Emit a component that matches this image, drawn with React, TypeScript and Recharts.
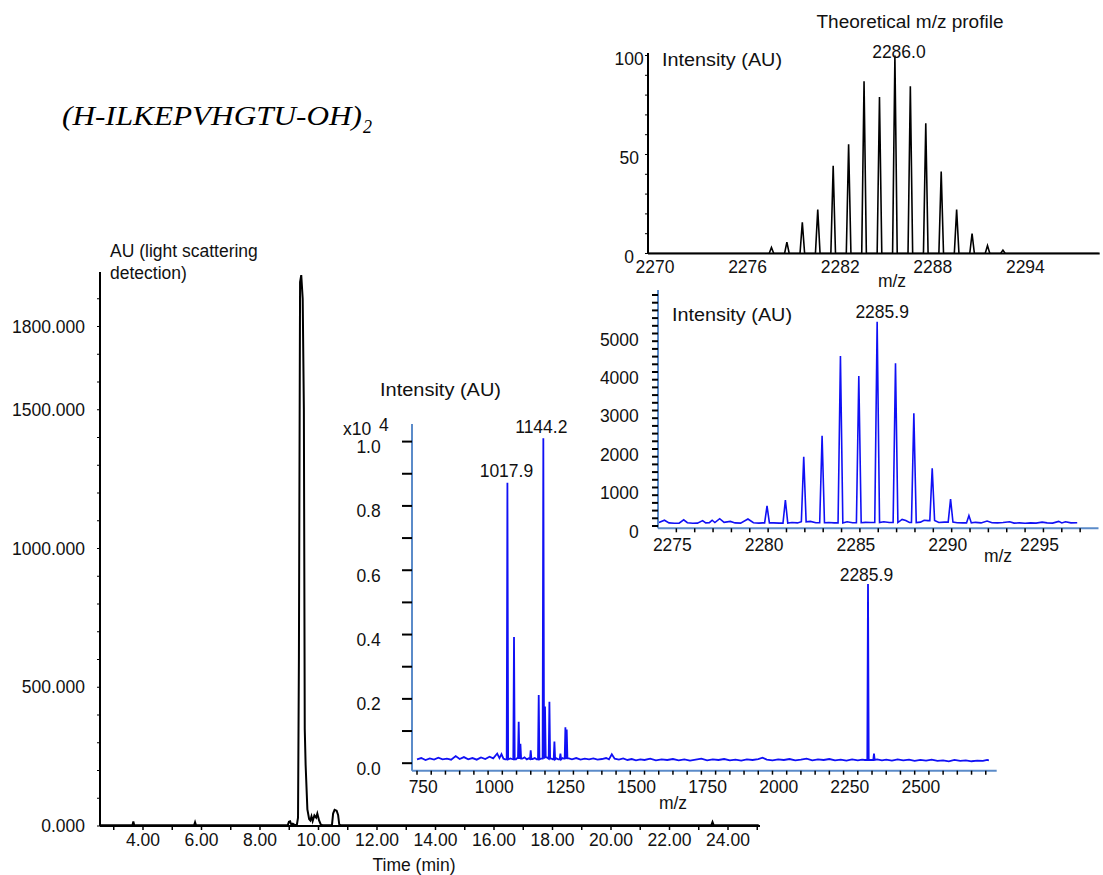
import React from 'react';
import { LineChart, Line, XAxis, YAxis, ReferenceDot } from 'recharts';

// ---------------- Panel 1: chromatogram (light scattering) ----------------
const chromTime = [2.55, 3.64, 3.67, 3.70, 5.75, 5.78, 5.81, 8.95, 8.99, 9.03, 9.07, 9.12, 9.18, 9.26, 9.30, 9.33, 9.37, 9.41, 9.46, 9.50, 9.53, 9.56, 9.62, 9.68, 9.72, 9.76, 9.80, 9.86, 9.92, 9.96, 10.02, 10.08, 10.14, 10.46, 10.50, 10.55, 10.62, 10.67, 10.71, 10.76, 23.43, 23.47, 23.51, 25.05];
const chromAU = [3, 3, 16, 3, 3, 13, 3, 3, 15, 17, 5, 8, 4, 4, 30, 600, 1960, 1985, 1900, 1500, 350, 220, 60, 25, 20, 35, 18, 38, 30, 45, 20, 5, 3, 3, 45, 58, 55, 40, 5, 3, 3, 14, 3, 3];
const chromXTicks = [3, 4, 5, 6, 7, 8, 9, 10, 11, 12, 13, 14, 15, 16, 17, 18, 19, 20, 21, 22, 23, 24, 25];
const chromXLabels = [4, 6, 8, 10, 12, 14, 16, 18, 20, 22, 24];
const chromYTicks = [0, 100, 200, 300, 400, 500, 600, 700, 800, 900, 1000, 1100, 1200, 1300, 1400, 1500, 1600, 1700, 1800, 1900];
const chromYLabels = [0, 500, 1000, 1500, 1800];

// ---------------- Panel 2: full MS spectrum ----------------
const fullBaseMz = [700, 715, 730, 745, 760, 775, 790, 805, 820, 836, 850, 865, 880, 895, 910, 925, 940, 955, 968, 982, 990, 997, 1004, 1010, 1028, 1034, 1048, 1052, 1070, 1078, 1086, 1093, 1106, 1114, 1121, 1136, 1157, 1173, 1178, 1190, 1197, 1212, 1216, 1234, 1245, 1260, 1275, 1290, 1305, 1320, 1335, 1350, 1365, 1375, 1385, 1395, 1410, 1425, 1440, 1455, 1470, 1485, 1500, 1520, 1540, 1560, 1580, 1600, 1620, 1640, 1660, 1680, 1700, 1720, 1740, 1760, 1780, 1800, 1820, 1840, 1860, 1880, 1900, 1915, 1930, 1950, 1970, 1990, 2010, 2030, 2050, 2070, 2090, 2110, 2130, 2150, 2170, 2190, 2210, 2230, 2250, 2265, 2275, 2296, 2318, 2335, 2350, 2370, 2390, 2410, 2430, 2450, 2470, 2490, 2510, 2530, 2550, 2570, 2590, 2610, 2630, 2650, 2670, 2690, 2705, 2711];
const fullBaseInt = [0.012, 0.016, 0.010, 0.015, 0.011, 0.017, 0.012, 0.014, 0.011, 0.022, 0.013, 0.019, 0.012, 0.016, 0.011, 0.018, 0.013, 0.020, 0.015, 0.030, 0.016, 0.028, 0.014, 0.012, 0.015, 0.013, 0.012, 0.016, 0.014, 0.018, 0.012, 0.015, 0.013, 0.016, 0.012, 0.014, 0.018, 0.014, 0.012, 0.015, 0.012, 0.016, 0.014, 0.015, 0.012, 0.016, 0.011, 0.014, 0.012, 0.015, 0.011, 0.013, 0.016, 0.012, 0.028, 0.014, 0.011, 0.015, 0.010, 0.013, 0.009, 0.012, 0.010, 0.014, 0.009, 0.012, 0.010, 0.013, 0.009, 0.012, 0.008, 0.011, 0.014, 0.009, 0.012, 0.010, 0.013, 0.009, 0.011, 0.008, 0.012, 0.010, 0.013, 0.017, 0.011, 0.009, 0.012, 0.010, 0.013, 0.009, 0.011, 0.014, 0.009, 0.012, 0.010, 0.013, 0.009, 0.011, 0.008, 0.012, 0.009, 0.011, 0.010, 0.010, 0.012, 0.009, 0.011, 0.008, 0.012, 0.009, 0.011, 0.007, 0.010, 0.008, 0.011, 0.007, 0.009, 0.006, 0.010, 0.007, 0.009, 0.006, 0.008, 0.007, 0.010, 0.009];
const fullPeakMz = [1017.9, 1041.1, 1057.6, 1063.6, 1099.8, 1128.0, 1144.2, 1150.1, 1165.6, 1183.2, 1204.3, 1221.8, 1226.4, 2285.9, 2306.9];
const fullPeakInt = [0.872, 0.392, 0.129, 0.060, 0.040, 0.212, 1.010, 0.176, 0.191, 0.067, 0.030, 0.112, 0.105, 0.557, 0.030];
const fullXTicks = [700, 750, 800, 850, 900, 950, 1000, 1050, 1100, 1150, 1200, 1250, 1300, 1350, 1400, 1450, 1500, 1550, 1600, 1650, 1700, 1750, 1800, 1850, 1900, 1950, 2000, 2050, 2100, 2150, 2200, 2250, 2300, 2350, 2400, 2450, 2500, 2550, 2600, 2650, 2700];
const fullXLabels = [750, 1000, 1250, 1500, 1750, 2000, 2250, 2500];
const fullYTicks = [0, 0.1, 0.2, 0.3, 0.4, 0.5, 0.6, 0.7, 0.8, 0.9, 1.0];
const fullYLabels = [0, 0.2, 0.4, 0.6, 0.8, 1.0];

// ---------------- Panel 3: measured isotope cluster ----------------
const isoBaseMz = [2274.05, 2274.35, 2274.6, 2274.9, 2275.15, 2275.4, 2275.6, 2275.9, 2276.15, 2276.43, 2276.6, 2276.8, 2276.95, 2277.1, 2277.36, 2277.6, 2277.94, 2278.2, 2278.5, 2278.9, 2279.2, 2279.5, 2279.7, 2280.3, 2280.6, 2281.3, 2281.6, 2281.8, 2282.3, 2282.6, 2283.3, 2283.6, 2284.3, 2284.6, 2285.3, 2285.6, 2286.3, 2286.6, 2287.3, 2287.5, 2287.7, 2288.3, 2288.5, 2288.7, 2289.3, 2289.6, 2290.3, 2290.6, 2291.3, 2291.6, 2291.93, 2292.2, 2292.5, 2292.8, 2293.16, 2293.4, 2293.7, 2294.0, 2294.3, 2294.6, 2294.93, 2295.2, 2295.5, 2295.83, 2296.0, 2296.2, 2296.5, 2296.84];
const isoBaseInt = [90, 150, 80, 70, 75, 160, 85, 70, 75, 140, 80, 85, 150, 90, 190, 95, 120, 80, 75, 180, 85, 75, 80, 80, 75, 90, 80, 110, 120, 85, 90, 80, 110, 85, 95, 90, 110, 90, 170, 140, 90, 100, 150, 140, 90, 100, 85, 80, 95, 80, 130, 85, 80, 90, 110, 75, 80, 70, 80, 75, 100, 80, 75, 120, 80, 110, 80, 85];
const isoPeakMz = [2279.94, 2280.94, 2281.94, 2282.94, 2283.94, 2284.94, 2285.94, 2286.94, 2287.94, 2288.94, 2289.94, 2290.94];
const isoPeakInt = [520, 675, 1800, 2345, 4415, 3895, 5305, 4225, 2925, 1500, 700, 270];
const isoXTicks = [2275, 2276, 2277, 2278, 2279, 2280, 2281, 2282, 2283, 2284, 2285, 2286, 2287, 2288, 2289, 2290, 2291, 2292, 2293, 2294, 2295, 2296, 2297];
const isoXLabels = [2275, 2280, 2285, 2290, 2295];
const isoYTicks = [0, 200, 400, 600, 800, 1000, 1200, 1400, 1600, 1800, 2000, 2200, 2400, 2600, 2800, 3000, 3200, 3400, 3600, 3800, 4000, 4200, 4400, 4600, 4800, 5000, 5200, 5400, 5600, 5800, 6000];
const isoYLabels = [0, 1000, 2000, 3000, 4000, 5000];

// ---------------- Panel 4: theoretical profile ----------------
const theoBaseMz = [2270, 2299.2];
const theoBaseInt = [0, 0];
const theoMz = [2278, 2279, 2280, 2281, 2282, 2283, 2284, 2285, 2286, 2287, 2288, 2289, 2290, 2291, 2292, 2293];
const theoRel = [3.0, 5.7, 15.7, 22.2, 44.3, 55.2, 87.0, 79.0, 100, 84.5, 65.8, 41.4, 22.2, 10.1, 4.0, 1.7];
const theoXTicks = [2270, 2276, 2282, 2288, 2294];
const theoYTicks = [0, 10, 20, 30, 40, 50, 60, 70, 80, 90, 100];
const theoYLabels = [0, 50, 100];

// ---------------- helpers ----------------
const FONT = "'Liberation Sans', Arial, Helvetica, sans-serif";
const FS = 17.5;
const AXIS_BLUE = '#5b8bc9';
const LINE_BLUE = '#1010f5';

type Pt = { x: number; y: number };

function zipPts(xs: number[], ys: number[]): Pt[] {
  return xs.map((x, i) => ({ x, y: ys[i] }));
}

function spectrum(baseMz: number[], baseInt: number[], peakMz: number[], peakInt: number[], hw: number): Pt[] {
  const pts: Pt[] = [];
  baseMz.forEach((m, i) => {
    if (!peakMz.some((p) => Math.abs(p - m) < hw * 1.6)) pts.push({ x: m, y: baseInt[i] });
  });
  peakMz.forEach((p, i) => {
    let best = 0;
    let bd = Infinity;
    baseMz.forEach((m, j) => {
      const d = Math.abs(m - p);
      if (d < bd) { bd = d; best = j; }
    });
    const b = baseInt[best];
    pts.push({ x: p - hw, y: b }, { x: p, y: peakInt[i] }, { x: p + hw, y: b });
  });
  pts.sort((a, b) => a.x - b.x);
  return pts;
}

function frame(pl: number, pr: number, pt: number, pb: number, yW: number, xH: number, mt = 30, mr = 2) {
  return {
    style: { position: 'absolute' as const, left: pl - yW, top: pt - mt },
    width: pr - pl + yW + mr,
    height: pb - pt + xH + mt,
    margin: { top: mt, right: mr, bottom: 0, left: 0 },
  };
}

const near = (list: number[]) => (v: number) => list.some((l) => Math.abs(l - v) < 1e-6);

function mkTick(show: (v: number) => boolean, fmt: (v: number) => string, anchor: 'start' | 'middle' | 'end', dx: number, dy: number) {
  return (props: any) => {
    const v = props?.payload?.value;
    if (v === undefined || !show(v)) return <g />;
    return (
      <text x={props.x + dx} y={props.y + dy} textAnchor={anchor} fontSize={FS} fontFamily={FONT} fill="#111">
        {fmt(v)}
      </text>
    );
  };
}

function PeakLabel(props: any) {
  const { viewBox, text, dx, dy } = props;
  if (!viewBox) return null;
  const cx = viewBox.x + (viewBox.width || 0) / 2;
  const cy = viewBox.y + (viewBox.height || 0) / 2;
  return (
    <text x={cx + dx} y={cy + dy} textAnchor="middle" fontSize={FS} fontFamily={FONT} fill="#111">
      {text}
    </text>
  );
}

// ---------------- data ----------------
const chromData = zipPts(chromTime, chromAU);
const fullData = spectrum(fullBaseMz, fullBaseInt, fullPeakMz, fullPeakInt, 2.5);
const isoData = spectrum(isoBaseMz, isoBaseInt, isoPeakMz, isoPeakInt, 0.13);
const theoData = spectrum(theoBaseMz, theoBaseInt, theoMz, theoRel, 0.15);

export default function App() {
  const f1 = frame(100, 760, 272, 826, 100, 50);
  const f2 = frame(412.3, 997, 424, 770.7, 72, 30);
  const f3 = frame(657.5, 1098, 290, 528.3, 62, 30);
  const f4 = frame(648.3, 1100, 53, 253.5, 45, 25, 30, 1);

  const txt = { fontFamily: FONT, fontSize: FS, fill: '#111' };

  return (
    <div style={{ position: 'absolute', left: 0, top: 0, width: 1103, height: 875, background: '#fff', overflow: 'hidden' }}>
      {/* Panel 1 */}
      <div style={f1.style}>
        <LineChart width={f1.width} height={f1.height} data={chromData} margin={f1.margin}>
          <XAxis dataKey="x" type="number" domain={[2.53, 25.094]} allowDataOverflow ticks={chromXTicks} interval={0}
            height={50} tickSize={4} tickMargin={0}
            axisLine={{ stroke: '#000', strokeWidth: 2 }} tickLine={{ stroke: '#000', strokeWidth: 1.5 }}
            tick={mkTick(near(chromXLabels), (v) => v.toFixed(2), 'middle', 0, 16)} />
          <YAxis type="number" domain={[0, 1996.4]} allowDataOverflow ticks={chromYTicks} interval={0}
            width={100} tickSize={3} tickMargin={0}
            axisLine={{ stroke: '#000', strokeWidth: 2 }} tickLine={{ stroke: '#000', strokeWidth: 1 }}
            tick={mkTick(near(chromYLabels), (v) => v.toFixed(3), 'end', -12, 6)} />
          <Line dataKey="y" type="linear" stroke="#000" strokeWidth={2} dot={false} isAnimationActive={false} />
        </LineChart>
      </div>

      {/* Panel 2 */}
      <div style={f2.style}>
        <LineChart width={f2.width} height={f2.height} data={fullData} margin={f2.margin}>
          <XAxis dataKey="x" type="number" domain={[682.4, 2738.4]} allowDataOverflow ticks={fullXTicks} interval={0}
            height={30} tickSize={4} tickMargin={0}
            axisLine={{ stroke: AXIS_BLUE, strokeWidth: 2 }} tickLine={{ stroke: '#000', strokeWidth: 1.5 }}
            tick={mkTick(near(fullXLabels), (v) => String(v), 'middle', -8, 18.3)} />
          <YAxis type="number" domain={[-0.0233, 1.0547]} allowDataOverflow ticks={fullYTicks} interval={0}
            width={72} tickSize={10} tickMargin={0}
            axisLine={{ stroke: AXIS_BLUE, strokeWidth: 2 }} tickLine={{ stroke: '#000', strokeWidth: 2 }}
            tick={mkTick(near(fullYLabels), (v) => v.toFixed(1), 'end', -21.3, 11.5)} />
          <Line dataKey="y" type="linear" stroke={LINE_BLUE} strokeWidth={1.8} dot={false} isAnimationActive={false} />
          <ReferenceDot x={1017.9} y={0.872} r={1} fill="none" stroke="none" label={<PeakLabel text="1017.9" dx={-1} dy={-6} />} />
          <ReferenceDot x={1144.2} y={1.01} r={1} fill="none" stroke="none" label={<PeakLabel text="1144.2" dx={-2} dy={-5} />} />
          <ReferenceDot x={2285.9} y={0.557} r={1} fill="none" stroke="none" label={<PeakLabel text="2285.9" dx={-1.6} dy={-3.3} />} />
        </LineChart>
      </div>

      {/* Panel 3 */}
      <div style={f3.style}>
        <LineChart width={f3.width} height={f3.height} data={isoData} margin={f3.margin}>
          <XAxis dataKey="x" type="number" domain={[2274.0, 2298.0]} allowDataOverflow ticks={isoXTicks} interval={0}
            height={30} tickSize={4} tickMargin={0}
            axisLine={{ stroke: AXIS_BLUE, strokeWidth: 2 }} tickLine={{ stroke: '#000', strokeWidth: 1.5 }}
            tick={mkTick(near(isoXLabels), (v) => String(v), 'middle', -4, 18.7)} />
          <YAxis type="number" domain={[-60, 6130]} allowDataOverflow ticks={isoYTicks} interval={0}
            width={62} tickSize={6} tickMargin={0}
            axisLine={{ stroke: AXIS_BLUE, strokeWidth: 2 }} tickLine={{ stroke: '#000', strokeWidth: 2 }}
            tick={mkTick(near(isoYLabels), (v) => String(v), 'end', -13.2, 12)} />
          <Line dataKey="y" type="linear" stroke={LINE_BLUE} strokeWidth={1.6} dot={false} isAnimationActive={false} />
          <ReferenceDot x={2285.94} y={5305} r={1} fill="none" stroke="none" label={<PeakLabel text="2285.9" dx={5} dy={-3.7} />} />
        </LineChart>
      </div>

      {/* Panel 4 */}
      <div style={f4.style}>
        <LineChart width={f4.width} height={f4.height} data={theoData} margin={f4.margin}>
          <XAxis dataKey="x" type="number" domain={[2270, 2299.27]} allowDataOverflow ticks={theoXTicks} interval={0}
            height={25} tickSize={0} tickMargin={0}
            axisLine={{ stroke: '#000', strokeWidth: 2 }} tickLine={false}
            tick={mkTick(() => true, (v) => String(v), 'middle', 7, 19.2)} />
          <YAxis type="number" domain={[0, 101.26]} allowDataOverflow ticks={theoYTicks} interval={0}
            width={45} tickSize={3} tickMargin={0}
            axisLine={{ stroke: '#000', strokeWidth: 2 }} tickLine={{ stroke: '#000', strokeWidth: 1 }}
            tick={mkTick(near(theoYLabels), (v) => String(v), 'middle', -15.8, 10)} />
          <Line dataKey="y" type="linear" stroke="#000" strokeWidth={1.6} dot={false} isAnimationActive={false} />
          <ReferenceDot x={2286} y={100} r={1} fill="none" stroke="none" label={<PeakLabel text="2286.0" dx={4} dy={2.5} />} />
        </LineChart>
      </div>

      {/* Text overlay */}
      <svg width={1103} height={875} style={{ position: 'absolute', left: 0, top: 0, pointerEvents: 'none' }}>
        <text x={62} y={125} fontFamily="'Liberation Serif', 'Times New Roman', serif" fontStyle="italic" fontSize={27} fill="#000">
          <tspan textLength={300} lengthAdjust="spacingAndGlyphs">(H-ILKEPVHGTU-OH)</tspan>
          <tspan fontSize={18} dy={8} dx={1}>2</tspan>
        </text>
        <text x={110} y={257} {...txt}>AU (light scattering</text>
        <text x={110} y={279} {...txt}>detection)</text>
        <text x={414} y={871} textAnchor="middle" {...txt}>Time (min)</text>

        <text x={380} y={396} {...txt} textLength={121} lengthAdjust="spacingAndGlyphs">Intensity (AU)</text>
        <text x={343} y={435} {...txt}>x10</text>
        <text x={379} y={431} {...txt}>4</text>
        <text x={673} y={809} textAnchor="middle" {...txt}>m/z</text>

        <text x={672} y={321} {...txt} textLength={120} lengthAdjust="spacingAndGlyphs">Intensity (AU)</text>
        <text x={998} y={562} textAnchor="middle" {...txt}>m/z</text>

        <text x={910} y={28} textAnchor="middle" {...txt} textLength={187} lengthAdjust="spacingAndGlyphs">Theoretical m/z profile</text>
        <text x={662} y={66} {...txt} textLength={120} lengthAdjust="spacingAndGlyphs">Intensity (AU)</text>
        <text x={892} y={287} textAnchor="middle" {...txt}>m/z</text>
      </svg>
    </div>
  );
}
